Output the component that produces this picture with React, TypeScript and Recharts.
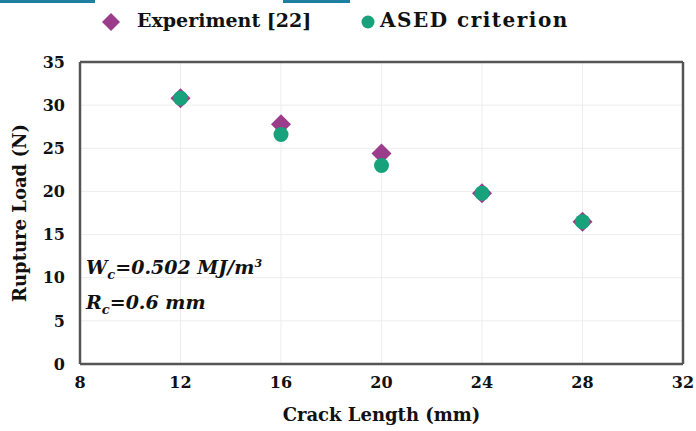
import React from 'react';
import { ScatterChart, Scatter, XAxis, YAxis, CartesianGrid, ReferenceLine } from 'recharts';

const crackLengths = [12, 16, 20, 24, 28];
const experimentLoads = [30.8, 27.8, 24.4, 19.8, 16.5];
const asedLoads = [30.8, 26.6, 23.0, 19.8, 16.5];
const xTicks = [8, 12, 16, 20, 24, 28, 32];
const yTicks = [0, 5, 10, 15, 20, 25, 30, 35];

const experimentData = crackLengths.map((x, i) => ({ x, y: experimentLoads[i] }));
const asedData = crackLengths.map((x, i) => ({ x, y: asedLoads[i] }));

const PURPLE = '#9c3d8c';
const TEAL = '#17a27c';
const FONT = 'DejaVu Serif';

const Diamond = (props: any) => {
  const { cx, cy } = props;
  const r = 10;
  return <path d={`M${cx},${cy - r}L${cx + r},${cy}L${cx},${cy + r}L${cx - r},${cy}Z`} fill={PURPLE} />;
};
const Dot = (props: any) => {
  const { cx, cy } = props;
  return <circle cx={cx} cy={cy} r={7.5} fill={TEAL} />;
};

export default function App() {
  return (
    <div style={{ position: 'absolute', left: 0, top: 0, width: 696, height: 431, background: '#fff', overflow: 'hidden' }}>
      <div style={{ position: 'absolute', left: 0, top: 0, width: 95, height: 3, background: '#1f7fa0' }} />
      <div style={{ position: 'absolute', left: 283, top: 0, width: 67, height: 3, background: '#1f7fa0' }} />
      <ScatterChart width={696} height={431} margin={{ top: 62, right: 13, bottom: 7, left: 20 }}>
        <CartesianGrid stroke="#ededed" strokeWidth={1} />
        <XAxis
          type="number"
          dataKey="x"
          domain={[8, 32]}
          ticks={xTicks}
          height={60}
          tickLine={false}
          axisLine={{ stroke: '#555', strokeWidth: 2.5 }}
          tick={{ fill: '#111', fontSize: 16, fontWeight: 'bold', fontFamily: FONT }}
          tickMargin={7}
          label={{ value: 'Crack Length (mm)', position: 'insideBottom', offset: 3, style: { fill: '#111', fontSize: 18, fontWeight: 'bold', fontFamily: FONT } }}
        />
        <YAxis
          type="number"
          dataKey="y"
          domain={[0, 35]}
          ticks={yTicks}
          width={60}
          tickLine={false}
          axisLine={{ stroke: '#555', strokeWidth: 2.5 }}
          tick={{ fill: '#111', fontSize: 16, fontWeight: 'bold', fontFamily: FONT }}
          tickMargin={9}
          label={{ value: 'Rupture Load (N)', angle: -90, position: 'insideLeft', offset: 0, style: { textAnchor: 'middle', fill: '#111', fontSize: 18, fontWeight: 'bold', fontFamily: FONT } }}
        />
        <ReferenceLine y={35} stroke="#555" strokeWidth={2.5} />
        <ReferenceLine x={32} stroke="#555" strokeWidth={2.5} />
        <Scatter name="Experiment [22]" data={experimentData} fill={PURPLE} shape={<Diamond />} isAnimationActive={false} />
        <Scatter name="ASED criterion" data={asedData} fill={TEAL} shape={<Dot />} isAnimationActive={false} />
      </ScatterChart>
      <div style={{ position: 'absolute', left: 0, top: 0, width: 696, height: 45, fontFamily: FONT, fontWeight: 'bold', fontSize: 19, color: '#111' }}>
        <svg style={{ position: 'absolute', left: 101, top: 12 }} width={20} height={20}>
          <path d="M10,1L19,10L10,19L1,10Z" fill={PURPLE} />
        </svg>
        <span style={{ position: 'absolute', left: 137, top: 9, whiteSpace: 'nowrap' }}>Experiment [22]</span>
        <svg style={{ position: 'absolute', left: 361, top: 15 }} width={14} height={14}>
          <circle cx={7} cy={7} r={6.5} fill={TEAL} />
        </svg>
        <span style={{ position: 'absolute', left: 380, top: 8, fontSize: 20, letterSpacing: 1.5, whiteSpace: 'nowrap' }}>ASED criterion</span>
      </div>
      <div style={{ position: 'absolute', left: 86, top: 256, fontFamily: FONT, fontWeight: 'bold', fontStyle: 'italic', fontSize: 19, color: '#111', whiteSpace: 'nowrap' }}>
        W<sub style={{ fontSize: 13 }}>c</sub>=0.502 MJ/m<sup style={{ fontSize: 11 }}>3</sup>
      </div>
      <div style={{ position: 'absolute', left: 86, top: 291, fontFamily: FONT, fontWeight: 'bold', fontStyle: 'italic', fontSize: 19, color: '#111', whiteSpace: 'nowrap' }}>
        R<sub style={{ fontSize: 13 }}>c</sub>=0.6 mm
      </div>
    </div>
  );
}
